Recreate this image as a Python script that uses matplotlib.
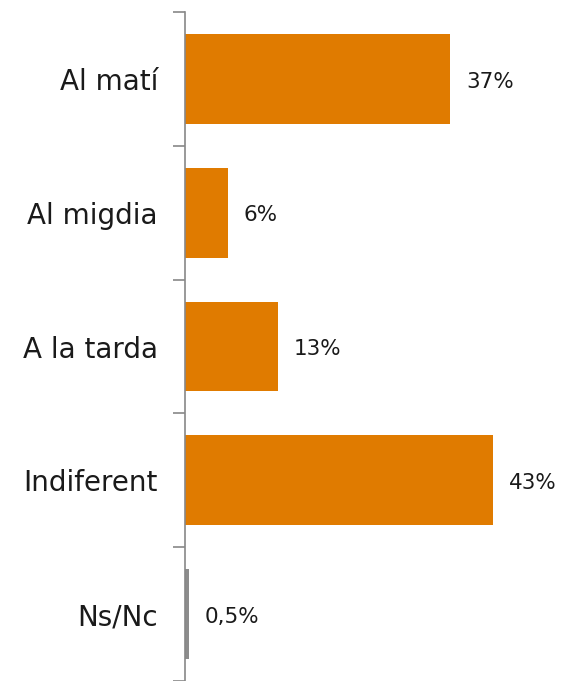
import matplotlib.pyplot as plt
import numpy as np

categories = ['Al matí', 'Al migdia', 'A la tarda', 'Indiferent', 'Ns/Nc']
values = [37, 6, 13, 43, 0.5]
labels = ['37%', '6%', '13%', '43%', '0,5%']
colors = ['#E07B00', '#E07B00', '#E07B00', '#E07B00', '#8C8C8C']

fig = plt.figure(figsize=(5.63, 6.81), dpi=100)
ax = fig.add_axes([185 / 563, 0, 1 - 185 / 563, 1 - 12 / 681])

y = np.arange(len(categories))
ax.barh(y, values, height=0.67, color=colors)

for yi, v, lab in zip(y, values, labels):
    ax.text(v + 2.2, yi + 0.02, lab, va='center', ha='left', fontsize=15.5, color='#1a1a1a')

ax.set_xlim(0, 52.7)
ax.set_ylim(len(categories) - 0.5, -0.5)
ax.set_yticks(y)
ax.set_yticklabels(categories, fontsize=20, color='#1a1a1a')
ax.set_yticks(np.arange(len(categories) + 1) - 0.5, minor=True)
ax.tick_params(axis='y', which='major', length=0, pad=19.5)
ax.tick_params(axis='y', which='minor', length=9, color='#888888', width=1.2)
ax.set_xticks([])
for side in ['top', 'right', 'bottom']:
    ax.spines[side].set_visible(False)
ax.spines['left'].set_color('#888888')
ax.spines['left'].set_linewidth(1.2)

fig.savefig('out.png', dpi=100)
